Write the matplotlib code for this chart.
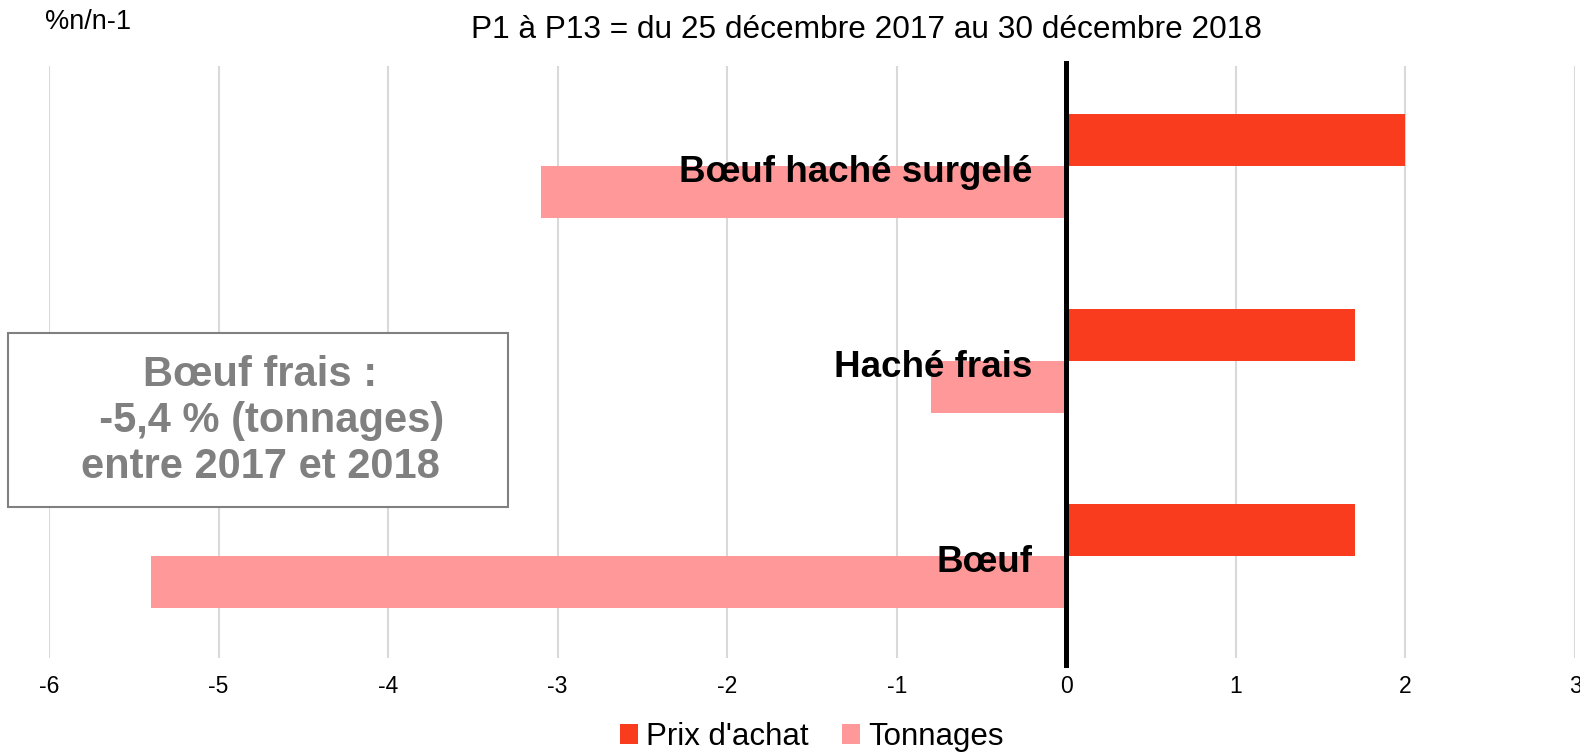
import matplotlib
matplotlib.use("Agg")
import matplotlib.pyplot as plt
from matplotlib.patches import Rectangle
import numpy as np

plt.rcParams['font.family'] = ['Liberation Sans', 'DejaVu Sans']

categories = ["Bœuf", "Haché frais", "Bœuf haché surgelé"]
prix_achat = [1.7, 1.7, 2.0]
tonnages = [-5.4, -0.8, -3.1]
x_ticks = [-6, -5, -4, -3, -2, -1, 0, 1, 2, 3]

col_prix = "#F93C1E"
col_ton = "#FF9999"

fig = plt.figure(figsize=[15.8, 7.55], dpi=100)
ax = fig.add_axes([49/1580, 1-658/755, 1526/1580, 592/755])

y = np.arange(len(categories))
h = 0.267
ax.barh(y + h/2, prix_achat, height=h, color=col_prix, label="Prix d'achat", zorder=2)
ax.barh(y - h/2, tonnages, height=h, color=col_ton, label="Tonnages", zorder=2)

ax.set_xlim(-6, 3)
ax.set_ylim(-0.521, 2.514)
ax.set_xticks(x_ticks)
ax.set_xticklabels([str(t) for t in x_ticks], fontsize=16.5)
ax.tick_params(axis='x', length=0, pad=12)
ax.set_yticks([])
ax.grid(axis='x', color='#D9D9D9', linewidth=1.5, zorder=0)
ax.set_axisbelow(True)
for s in ax.spines.values():
    s.set_visible(False)
ax.axvline(0, ymin=-0.012, ymax=1.005, color='black', linewidth=3.6, zorder=3, clip_on=False)

for yi, name in zip(y, categories):
    ax.text(-0.2, yi - 0.03, name, ha='right', va='center', fontsize=26.5, fontweight='bold', zorder=4)

fig.text(866/1580, 1-30/755, "P1 à P13 = du 25 décembre 2017 au 30 décembre 2018", ha='center', va='center', fontsize=22.8)
fig.text(45/1580, 1-22/755, "%n/n-1", ha='left', va='center', fontsize=19.5)

# encadré
fig.patches.append(Rectangle((8/1580, 1-507/755), 500/1580, 174/755, transform=fig.transFigure,
                             facecolor='white', edgecolor='#808080', linewidth=1.5, zorder=5))
fig.text(260/1580, 1-421/755, "Bœuf frais :\n  -5,4 % (tonnages)\nentre 2017 et 2018", ha='center', va='center',
         fontsize=30, fontweight='bold', color='#808080', linespacing=1.2, zorder=6)

fig.legend(loc='center', bbox_to_anchor=(812/1580, 1-737/755), ncol=2, frameon=False, fontsize=22.5,
           handlelength=0.58, handleheight=0.58, handletextpad=0.26, columnspacing=1.06)

fig.savefig("out.png", dpi=100)
